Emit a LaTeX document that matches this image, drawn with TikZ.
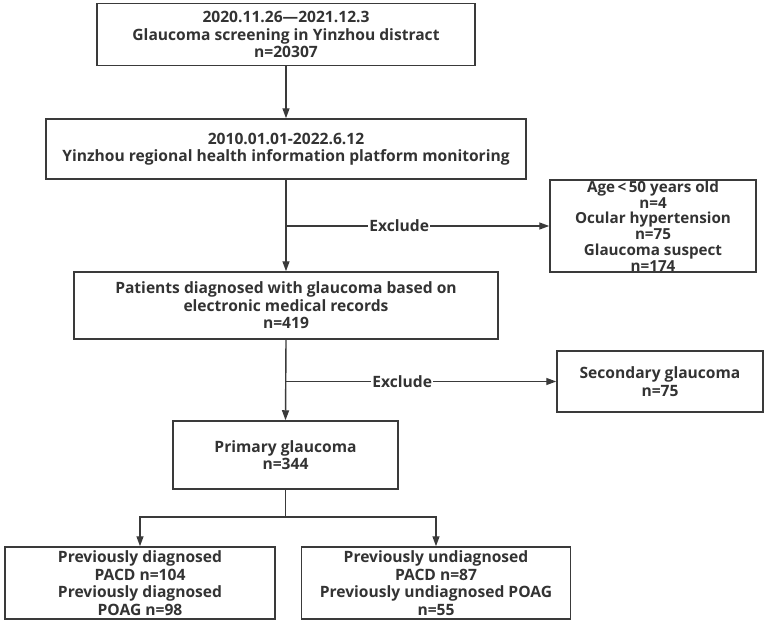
\documentclass[tikz,border=0pt]{standalone}
\usepackage{fontspec}
\setmainfont{Open Sans}
\usepackage{tikz}
\usetikzlibrary {
  positioning,
  arrows.meta,
}
\definecolor{ink}{HTML}{3A3A3A}
\definecolor{txt}{HTML}{333333}
\tikzset{
  box/.style = {
    rectangle,
    draw = ink,
    line width = 1.5pt,
    fill = white,
    align = center,
    text = txt,
    font = \fontsize{15.6}{17.5}\selectfont\bfseries,
    inner sep = 0pt
  },
  line/.style = {
    -{Triangle[length = 10pt, width = 7pt]},
    draw = ink,
    line width = 1.4pt
  },
  plain/.style = {
    -,
    draw = ink,
    line width = 1.4pt
  },
  tag/.style = {
    fill = white,
    text = txt,
    font = \fontsize{15.6}{17}\selectfont\bfseries,
    inner sep = 1pt
  },
}

\begin{document}
\begin{tikzpicture}[x = 1pt, y = -1pt]
  \useasboundingbox (0,0) rectangle (767,624);
  \node[box, minimum width = 378pt, minimum height = 62pt] (S) at (286,34.5) {
    2020.11.26---2021.12.3 \\
    Glaucoma screening in Yinzhou distract \\
    n=20307
  };
  \node[box, minimum width = 480pt, minimum height = 60pt] (P) at (286,149) {
    2010.01.01-2022.6.12 \\
    Yinzhou regional health information platform monitoring
  };
  \node[box, minimum width = 424pt, minimum height = 67pt] (D) at (286,305.5) {
    Patients diagnosed with glaucoma based on \\
    electronic medical records \\
    n=419
  };
  \node[box, minimum width = 206pt, minimum height = 92pt,
    font = \fontsize{15.2}{15.8}\selectfont\bfseries] (X1) at (653,226) {
    Age\,<\,50 years old \\
    n=4 \\
    Ocular hypertension \\
    n=75 \\
    Glaucoma suspect \\
    n=174
  };
  \node[box, minimum width = 225pt, minimum height = 68pt] (G) at (285.5,455) {
    Primary glaucoma \\
    n=344
  };
  \node[box, minimum width = 206pt, minimum height = 61pt] (X2) at (660,381.5) {
    Secondary glaucoma \\
    n=75
  };
  \node[box, minimum width = 270pt, minimum height = 72pt] (L) at (140,583) {
    Previously diagnosed \\
    PACD n=104 \\
    Previously diagnosed \\
    POAG n=98
  };
  \node[box, minimum width = 269pt, minimum height = 72pt] (R) at (436,583) {
    Previously undiagnosed \\
    PACD n=87 \\
    Previously undiagnosed POAG \\
    n=55
  };
  % main flow
  \draw[line] (S.south) -- (P.north);
  \draw[line] (P.south) -- (D.north);
  \draw[line] (D.south) -- (G.north);
  % exclusions
  \coordinate (e1) at (P.south |- X1.west);
  \coordinate (e2) at (D.south |- X2.west);
  \draw[line] (e1) -- node[tag, pos = 0.43] {Exclude} (X1.west);
  \draw[line] (e2) -- node[tag, pos = 0.43] {Exclude} (X2.west);
  % split
  \coordinate (b) at (G.south |- 0,517);
  \draw[plain] (G.south) -- (b);
  \draw[line] (b) -| (L.north);
  \draw[line] (b) -| (R.north);
\end{tikzpicture}
\end{document}
